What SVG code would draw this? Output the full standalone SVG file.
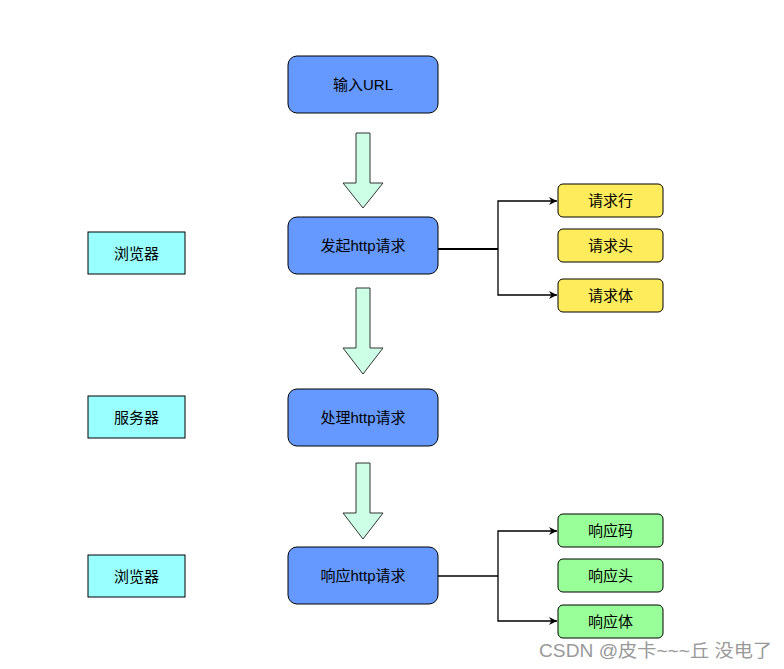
<svg xmlns="http://www.w3.org/2000/svg" width="784" height="669" viewBox="0 0 784 669">
<defs>
<style>
text{font-family:"Liberation Sans","Noto Sans CJK SC",sans-serif;font-size:15px;fill:#000;text-anchor:middle;dominant-baseline:central}
.main{fill:#6699ff;stroke:#000;stroke-width:1}
.side{fill:#99ffff;stroke:#000;stroke-width:1}
.yel{fill:#ffec5c;stroke:#000;stroke-width:1}
.grn{fill:#99ff99;stroke:#000;stroke-width:1}
.big{fill:#ccffe6;stroke:#333;stroke-width:1}
.line{fill:none;stroke:#000;stroke-width:1.3}
.wm{fill:#999;font-size:18px;text-anchor:start}
</style>
<marker id="ah" viewBox="0 0 10 10" refX="10" refY="5" markerWidth="8" markerHeight="8" markerUnits="userSpaceOnUse" orient="auto">
<path d="M0,0 L10,5 L0,10 L3,5 Z" fill="#000"/>
</marker>
</defs>
<rect width="784" height="669" fill="#fff"/>
<g id="n-input"><rect class="main" x="288" y="56" width="150" height="57" rx="9"/><text x="363" y="84.5">输入URL</text></g>
<g id="n-send"><rect class="main" x="288" y="217" width="150" height="57" rx="9"/><text x="363" y="245.5">发起http请求</text></g>
<g id="n-proc"><rect class="main" x="288" y="389" width="150" height="57" rx="9"/><text x="363" y="417.5">处理http请求</text></g>
<g id="n-resp"><rect class="main" x="288" y="547" width="150" height="57" rx="9"/><text x="363" y="575.5">响应http请求</text></g>
<g id="n-b1"><rect class="side" x="88" y="232" width="97" height="42"/><text x="136.5" y="253">浏览器</text></g>
<g id="n-srv"><rect class="side" x="88" y="396" width="97" height="42"/><text x="136.5" y="417">服务器</text></g>
<g id="n-b2"><rect class="side" x="88" y="555" width="97" height="42"/><text x="136.5" y="576">浏览器</text></g>
<g id="n-rl"><rect class="yel" x="558" y="184" width="105" height="33" rx="5"/><text x="610.5" y="200.5">请求行</text></g>
<g id="n-rh"><rect class="yel" x="558" y="229" width="105" height="33" rx="5"/><text x="610.5" y="245.5">请求头</text></g>
<g id="n-rb"><rect class="yel" x="558" y="279" width="105" height="33" rx="5"/><text x="610.5" y="295.5">请求体</text></g>
<g id="n-sc"><rect class="grn" x="558" y="514" width="105" height="33" rx="5"/><text x="610.5" y="530.5">响应码</text></g>
<g id="n-sh"><rect class="grn" x="558" y="559" width="105" height="33" rx="5"/><text x="610.5" y="575.5">响应头</text></g>
<g id="n-sb"><rect class="grn" x="558" y="605" width="105" height="33" rx="5"/><text x="610.5" y="621.5">响应体</text></g>
<g id="connectors">
<path class="big" d="M356,133 H370 V183 H383 L363,208 L343,183 H356 Z"/>
<path class="big" d="M356,288 H370 V348 H383 L363,374 L343,348 H356 Z"/>
<path class="big" d="M356,463 H370 V513 H383 L363,539 L343,513 H356 Z"/>
<path class="line" d="M438,249 H498" style="stroke-width:2.2"/>
<path class="line" d="M498,249 V201 H557" marker-end="url(#ah)"/>
<path class="line" d="M498,249 V295 H557" marker-end="url(#ah)"/>
<path class="line" d="M438,576 H498"/>
<path class="line" d="M498,576 V531 H557" marker-end="url(#ah)"/>
<path class="line" d="M498,576 V621 H557" marker-end="url(#ah)"/>
</g>
<text class="wm" x="539" y="651" textLength="233" lengthAdjust="spacingAndGlyphs">CSDN @皮卡~~~丘 没电了</text>
</svg>
